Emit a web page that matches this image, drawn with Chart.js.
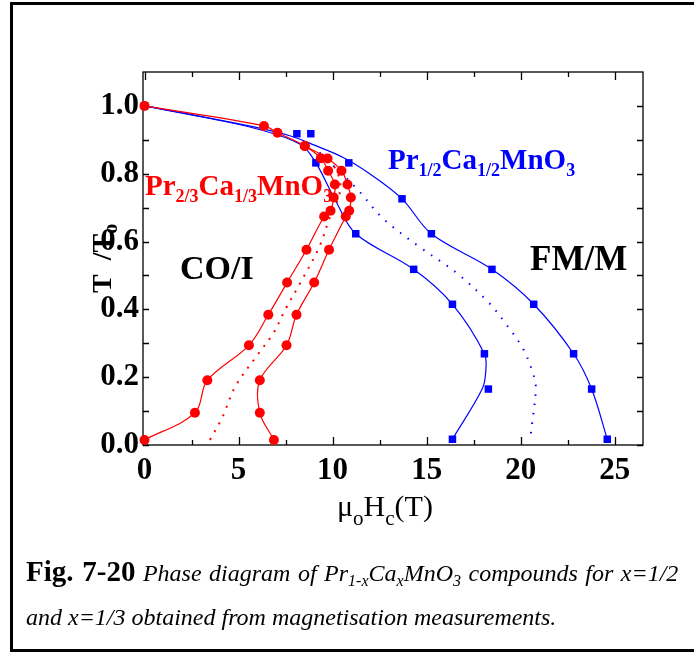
<!DOCTYPE html>
<html>
<head>
<meta charset="utf-8">
<script src="https://cdn.jsdelivr.net/npm/chart.js@4.4.0/dist/chart.umd.min.js"></script>
<style>
  body { margin: 0; background: #fff; }
  #wrap { position: relative; width: 694px; height: 653px; overflow: hidden; font-family: "Liberation Serif", "Times New Roman", serif; }
  #box { position: absolute; left: 10px; top: 2px; width: 720px; height: 650px; border: 3px solid #000; box-sizing: border-box; }
  canvas { position: absolute; left: 0; top: 0; }
  .lbl { position: absolute; white-space: nowrap; line-height: 1; font-weight: bold; }
  .lbl sub { font-size: 18px; vertical-align: -7px; line-height: 0; }
  #xtitle { position: absolute; white-space: nowrap; line-height: 1; font-size: 30px; }
  #xtitle sub { font-size: 21px; vertical-align: -9px; line-height: 0; }
  #ytitle { position: absolute; white-space: nowrap; line-height: 1; font-size: 28px; font-weight: bold; transform: rotate(-90deg); transform-origin: left top; }
  #ytitle sub { font-size: 20px; vertical-align: -6px; line-height: 0; }
  .cap { position: absolute; white-space: nowrap; line-height: 1; font-size: 24px; font-style: italic; }
  .cap b { font-style: normal; font-size: 29px; }
  .cap sub { font-size: 16px; vertical-align: -5px; line-height: 0; }
</style>
</head>
<body>
<div id="wrap">
  <div id="box"></div>
  <canvas id="phaseChart" width="694" height="653"></canvas>
  <div class="lbl" style="left:145px; top:171px; font-size:29px; color:#ff0000;">Pr<sub>2/3</sub>Ca<sub>1/3</sub>MnO<sub>3</sub></div>
  <div class="lbl" style="left:388px; top:145px; font-size:29px; color:#0000ff;">Pr<sub>1/2</sub>Ca<sub>1/2</sub>MnO<sub>3</sub></div>
  <div class="lbl" style="left:180px; top:251px; font-size:34px;">CO/I</div>
  <div class="lbl" style="left:530px; top:241px; font-size:35px;">FM/M</div>
  <div id="xtitle" style="left:337px; top:491px;">&mu;<sub>o</sub>H<sub>c</sub>(T)</div>
  <div id="ytitle" style="left:88px; top:293px;">T&nbsp;&nbsp;/T<sub>o</sub></div>
  <div class="cap" style="left:26px; top:557px; word-spacing:1.5px;"><b>Fig. 7-20</b> Phase diagram of Pr<sub>1-x</sub>Ca<sub>x</sub>MnO<sub>3</sub> compounds for x=1/2</div>
  <div class="cap" style="left:26px; top:605px;">and x=1/3 obtained from magnetisation measurements.</div>
</div>
<script>
// Axis ticks
const xTicks = [0, 5, 10, 15, 20, 25];
const xMinorTicks = [2.5, 7.5, 12.5, 17.5, 22.5];
const yTicks = [0, 0.2, 0.4, 0.6, 0.8, 1.0];
const yMinorTicks = [0.1, 0.3, 0.5, 0.7, 0.9];

// Pr1/2Ca1/2MnO3 - measured points (squares)
const blueLowerH = [0, 8.1, 9.11, 11.23, 14.31, 16.37, 18.07, 18.28, 16.37];
const blueLowerT = [1.0, 0.918, 0.832, 0.623, 0.518, 0.415, 0.269, 0.165, 0.017];
const blueUpperH = [8.84, 10.86, 13.69, 15.25, 18.47, 20.69, 22.81, 23.77, 24.6];
const blueUpperT = [0.918, 0.832, 0.726, 0.623, 0.518, 0.415, 0.269, 0.165, 0.017];

// Pr1/2Ca1/2MnO3 - guide lines
const blueLowerFitH = [0, 3, 6, 8.3, 9.11, 10.2, 11.23, 14.31, 16.37, 18.07, 18.14, 17.95, 16.37];
const blueLowerFitT = [1.0, 0.968, 0.932, 0.886, 0.832, 0.716, 0.623, 0.518, 0.415, 0.269, 0.216, 0.165, 0.017];
const blueUpperFitH = [0, 3, 6, 7.73, 9.0, 10.56, 11.97, 13.69, 15.25, 18.47, 20.69, 22.81, 23.77, 24.6];
const blueUpperFitT = [1.0, 0.969, 0.936, 0.912, 0.885, 0.848, 0.8, 0.726, 0.623, 0.518, 0.415, 0.269, 0.165, 0.017];
const blueMidH = [9.3, 11.3, 12.7, 14.6, 16.6, 18.3, 19.2, 20.1, 20.6, 20.8, 20.6, 20.5];
const blueMidT = [0.863, 0.755, 0.667, 0.585, 0.507, 0.42, 0.358, 0.286, 0.22, 0.171, 0.061, 0.017];

// Pr2/3Ca1/3MnO3 - measured points (circles), both branches
const redLeftH = [0, 2.68, 3.34, 5.55, 6.58, 7.58, 8.61, 9.55, 9.89, 10.06, 10.12, 9.76, 9.37, 8.52, 7.07, 6.35, 0];
const redLeftT = [0.015, 0.095, 0.191, 0.294, 0.384, 0.479, 0.576, 0.674, 0.691, 0.73, 0.768, 0.809, 0.846, 0.882, 0.921, 0.941, 1.0];
const redRightH = [6.88, 6.13, 6.13, 7.55, 8.08, 9.02, 9.81, 10.7, 10.88, 10.97, 10.79, 10.47, 9.73, 8.52];
const redRightT = [0.015, 0.095, 0.191, 0.294, 0.384, 0.479, 0.576, 0.674, 0.691, 0.73, 0.768, 0.809, 0.845, 0.882];
const redMidH = [3.48, 4.15, 4.81, 5.97, 6.84, 7.46, 8.35, 9.28, 9.85, 10.4, 10.2, 9.5];
const redMidT = [0.015, 0.083, 0.171, 0.263, 0.329, 0.397, 0.485, 0.583, 0.671, 0.75, 0.81, 0.855];

const RED = '#ff0000';
const BLUE = '#0000ff';

function pts(xs, ys) {
    return xs.map((v, i) => ({ x: v, y: ys[i] }));
}

// frame + inward ticks on all four sides
const framePlugin = {
    id: 'frame',
    beforeDatasetsDraw(chart) {
        const { ctx, chartArea: a, scales: { x, y } } = chart;
        ctx.save();
        ctx.strokeStyle = '#000';
        ctx.lineWidth = 1.3;
        ctx.strokeRect(a.left, a.top, a.right - a.left, a.bottom - a.top);
        ctx.beginPath();
        const xTick = (v, len) => {
            const px = Math.round(x.getPixelForValue(v)) + 0.5;
            ctx.moveTo(px, a.bottom); ctx.lineTo(px, a.bottom - len);
            ctx.moveTo(px, a.top); ctx.lineTo(px, a.top + len);
        };
        const yTick = (v, len) => {
            const py = Math.round(y.getPixelForValue(v)) + 0.5;
            ctx.moveTo(a.left, py); ctx.lineTo(a.left + len, py);
            ctx.moveTo(a.right, py); ctx.lineTo(a.right - len, py);
        };
        xTicks.forEach(v => xTick(v, 8));
        xMinorTicks.forEach(v => xTick(v, 5));
        yTicks.forEach(v => yTick(v, 6));
        yMinorTicks.forEach(v => yTick(v, 6));
        ctx.stroke();
        ctx.restore();
    }
};

const tickFont = { family: '"Liberation Serif", "Times New Roman", serif', size: 31, weight: 'bold' };

new Chart(document.getElementById('phaseChart'), {
    type: 'scatter',
    data: {
        datasets: [
            {
                data: pts(redLeftH, redLeftT), showLine: true, tension: 0.35,
                borderColor: RED, borderWidth: 1.2, pointRadius: 5, pointBorderWidth: 0,
                pointBackgroundColor: RED, clip: false
            },
            {
                data: pts(redRightH, redRightT), showLine: true, tension: 0.35,
                borderColor: RED, borderWidth: 1.2, pointRadius: 5, pointBorderWidth: 0,
                pointBackgroundColor: RED, clip: false
            },
            {
                data: pts(redMidH, redMidT), showLine: true, tension: 0.35,
                borderColor: RED, borderWidth: 2, borderDash: [2, 7], pointRadius: 0
            },
            {
                data: pts(blueLowerH, blueLowerT), pointStyle: 'rect', pointRadius: 5.3,
                pointBorderWidth: 0, pointBackgroundColor: BLUE, clip: false
            },
            {
                data: pts(blueUpperH, blueUpperT), pointStyle: 'rect', pointRadius: 5.3,
                pointBorderWidth: 0, pointBackgroundColor: BLUE, clip: false
            },
            {
                data: pts(blueLowerFitH, blueLowerFitT), showLine: true, tension: 0.35,
                borderColor: BLUE, borderWidth: 1.2, pointRadius: 0
            },
            {
                data: pts(blueUpperFitH, blueUpperFitT), showLine: true, tension: 0.35,
                borderColor: BLUE, borderWidth: 1.2, pointRadius: 0
            },
            {
                data: pts(blueMidH, blueMidT), showLine: true, tension: 0.35,
                borderColor: BLUE, borderWidth: 2, borderDash: [1.5, 8], pointRadius: 0
            }
        ]
    },
    options: {
        responsive: false,
        animation: false,
        layout: { padding: { left: 0, top: 72, right: 51, bottom: 0 } },
        plugins: { legend: { display: false }, tooltip: { enabled: false } },
        scales: {
            x: {
                type: 'linear', min: -0.08, max: 26.5,
                grid: { display: false }, border: { display: false },
                afterBuildTicks: s => { s.ticks = xTicks.map(v => ({ value: v })); },
                afterFit: s => { s.height = 208; },
                ticks: { font: tickFont, color: '#000', padding: -1, maxRotation: 0, autoSkip: false }
            },
            y: {
                type: 'linear', min: 0, max: 1.1,
                grid: { display: false }, border: { display: false },
                afterBuildTicks: s => { s.ticks = yTicks.map(v => ({ value: v })); },
                afterFit: s => { s.width = 143; },
                ticks: { font: tickFont, color: '#000', padding: -4, callback: v => v.toFixed(1) }
            }
        }
    },
    plugins: [framePlugin]
});
</script>
</body>
</html>
